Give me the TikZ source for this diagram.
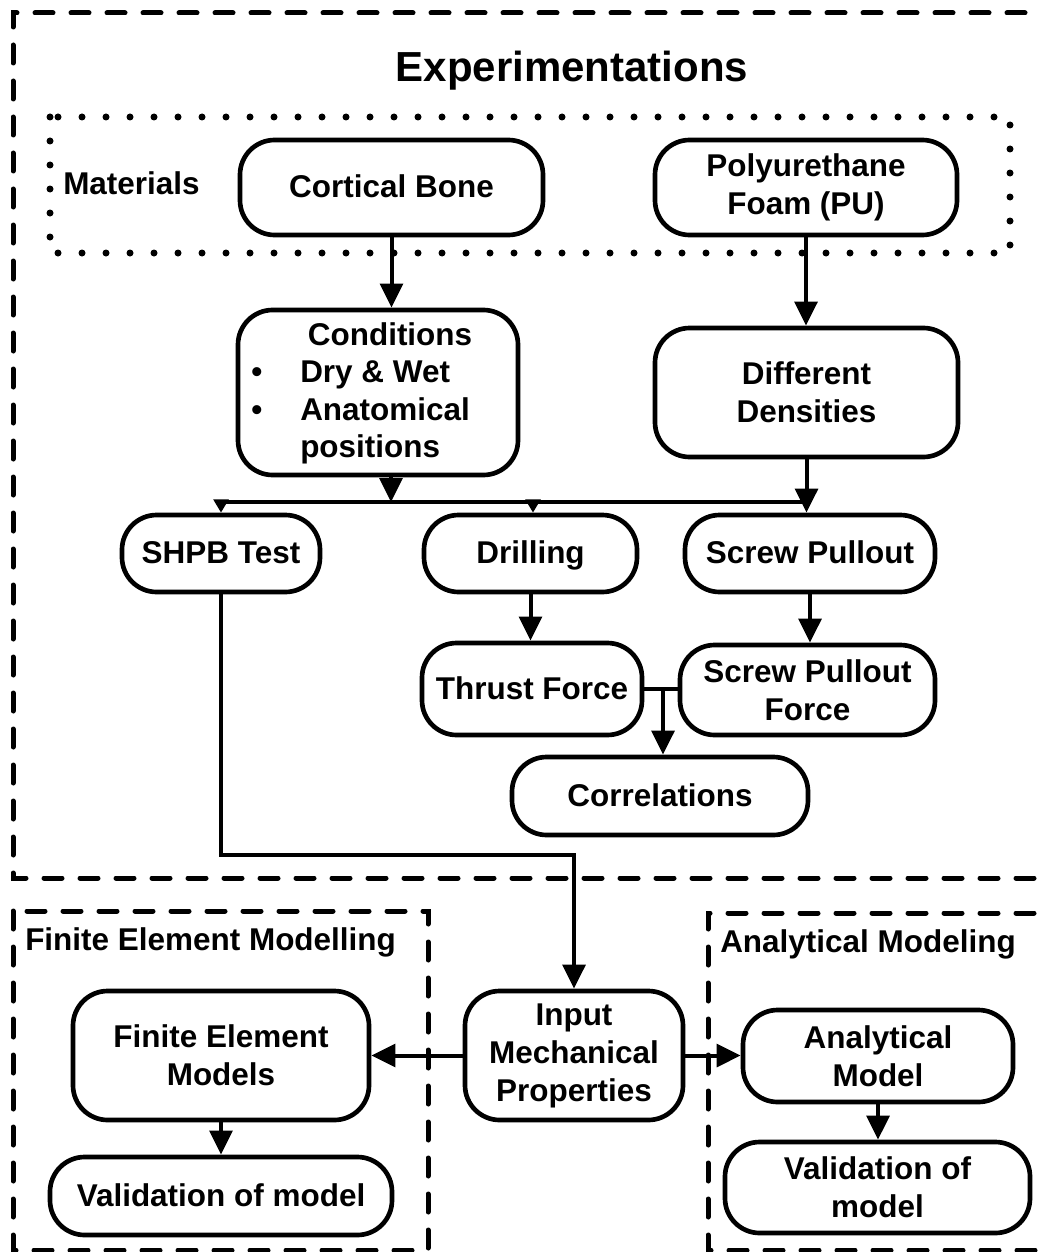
\documentclass[tikz,border=0pt]{standalone}
\usepackage{fontspec}
\setmainfont{Liberation Sans}
\usetikzlibrary{arrows.meta}
\newcommand\myfs{\fontsize{23.6pt}{28.5pt}\selectfont\bfseries}
\newcommand\mytitlefs{\fontsize{31.5pt}{36pt}\selectfont\bfseries}
\begin{document}
\begin{tikzpicture}[x=0.75pt,y=-0.75pt,
  box/.style={draw,line width=3.5pt,rounded corners=26pt,inner sep=0pt,align=center,font=\myfs},
  one/.style={text height=17pt,text depth=2pt},
  sz/.style 2 args={minimum width=#1*0.75pt,minimum height=#2*0.75pt},
  conn/.style={line width=3pt},
  arr/.style={conn,-{Triangle[length=18pt,width=17pt]}},
  sarr/.style={conn,-{Triangle[length=10pt,width=11pt]}},
  dashbox/.style={line width=3.75pt,dash pattern=on 13.5pt off 13.5pt,line cap=round},
  dotbox/.style={line width=5.25pt,dash pattern=on 0pt off 18pt,line cap=round},
  lbl/.style={inner sep=0pt,font=\myfs,anchor=base west}]
\useasboundingbox (0,0) rectangle (1039,1252);
\clip (0,0) rectangle (1039,1252);

% group frames
\draw[dashbox] (1070,878) -- (13,878) -- (13,13) -- (1070,13);
\draw[dashbox] (13,911) rectangle (428,1250);
\draw[dashbox] (1070,913) -- (708,913) -- (708,1250) -- (1070,1250);
\draw[dotbox] (50,117) rectangle (1010,253);

% labels
\node[inner sep=0pt,font=\mytitlefs,anchor=base] (title) at (572,82) {Experimentations};
\node[lbl] (materials) at (63,195) {Materials};
\node[lbl] (felabel) at (25,950) {Finite Element Modelling};
\node[lbl] (anlabel) at (720,952) {Analytical Modeling};

% boxes
\node[box,one,sz={303}{95}] (cort) at (391.5,187.5) {Cortical Bone};
\node[box,sz={302}{95}] (poly) at (806,187.5) {Polyurethane\\Foam (PU)};
\node[box,sz={280}{165}] (cond) at (378,392.5) {};
\node[inner sep=0pt,font=\myfs,anchor=base] (condt) at (390,345) {Conditions};
\node[inner sep=0pt,font=\myfs,anchor=base] (b1) at (257,382) {•};
\node[inner sep=0pt,font=\myfs,anchor=base] (b2) at (257,420) {•};
\node[lbl] (c1) at (300,382) {Dry \& Wet};
\node[lbl] (c2) at (300,420) {Anatomical};
\node[lbl] (c3) at (300,457) {positions};
\node[box,sz={303}{129}] (diff) at (806.5,392.5) {Different\\Densities};
\node[box,one,sz={198}{77}] (shpb) at (221,553.5) {SHPB Test};
\node[box,one,sz={213}{77}] (drill) at (530.5,553.5) {Drilling};
\node[box,one,sz={250}{77}] (scr) at (810,553.5) {Screw Pullout};
\node[box,one,sz={220}{92}] (thrust) at (532,689) {Thrust Force};
\node[box,sz={255}{90}] (spf) at (807.5,690) {Screw Pullout\\Force};
\node[box,one,sz={296}{78}] (corr) at (660,796) {Correlations};
\node[box,sz={218}{129}] (input) at (574,1055.5) {Input\\Mechanical\\Properties};
\node[box,sz={296}{129}] (fe) at (221,1055.5) {Finite Element\\Models};
\node[box,one,sz={342}{78}] (vall) at (221,1196) {Validation of model};
\node[box,sz={270}{92}] (anal) at (878,1056) {Analytical\\Model};
\node[box,sz={305}{91}] (valr) at (877.5,1187.5) {Validation of\\model};

% connectors
\coordinate (cdn) at (391,475);
\coordinate (jl) at (221,502);
\coordinate (jr) at (807,502);
\coordinate (jd) at (533,502);
\coordinate (jc) at (663,689);
\coordinate (bend) at (574,855);

\draw[arr] (cort.south) -- (cort.south |- cond.north);
\draw[arr] (poly.south) -- (poly.south |- diff.north);
\draw[conn] (jl) -- (jr);
\draw[arr] (cdn) -- (cdn |- jl);
\draw[sarr] (jl) -- (shpb.north);
\draw[sarr] (jd) -- (jd |- drill.north);
\draw[arr] (diff.south) -- (diff.south |- scr.north);
\draw[arr] (drill.south) -- (drill.south |- thrust.north);
\draw[arr] (scr.south) -- (scr.south |- spf.north);
\draw[conn] (thrust.east) -- (thrust.east -| spf.west);
\draw[arr] (jc) -- (jc |- corr.north);
\draw[arr] (shpb.south) |- (bend) -- (input.north);
\draw[arr] (input.west) -- (fe.east);
\draw[arr] (input.east) -- (input.east -| anal.west);
\draw[arr] (fe.south) -- (vall.north);
\draw[arr] (anal.south) -- (anal.south |- valr.north);
\end{tikzpicture}
\end{document}
